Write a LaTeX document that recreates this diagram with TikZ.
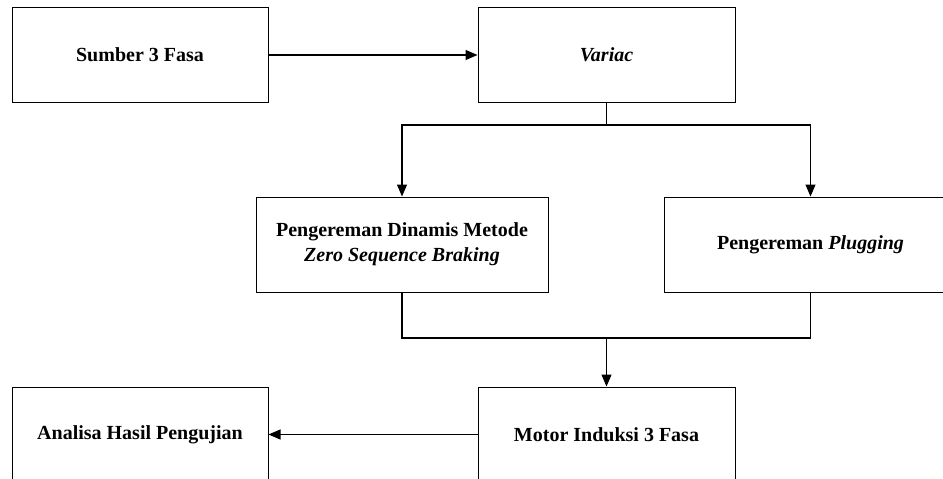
\documentclass[tikz,border=0pt]{standalone}
\usepackage{fontspec}
\setmainfont{Liberation Serif}
\usepackage{tikz}
\usetikzlibrary{arrows.meta}
\tikzset{>={Triangle[length=12pt,width=10pt]}}
\tikzset{blok/.style={draw, rectangle, line width=1pt, minimum height=95pt,
    align=center, font=\fontsize{20}{25}\selectfont\bfseries}}

\begin{document}
\begin{tikzpicture}[x=1pt, y=-1pt, line width=1.1pt]
    \useasboundingbox (0,0) rectangle (943,479);
    \node[blok, minimum width=256pt](sumber)at(140, 55){Sumber 3 Fasa};
    \node[blok, minimum width=257pt](variac)at(606.5, 55){\textit{Variac}};
    \node[blok, minimum width=292pt](dinamis)at(402, 244.5){Pengereman Dinamis Metode\\\textit{Zero Sequence Braking}};
    \node[blok, minimum width=292pt](plugging)at(810.5, 244.5){Pengereman \textit{Plugging}};
    \node[blok, minimum width=257pt](motor)at(606.5, 434.5){Motor Induksi 3 Fasa};
    \node[blok, minimum width=256pt](analisa)at(140, 434.5){Analisa Hasil Pengujian};
    \coordinate(cabang)at(606.5, 125);
    \coordinate(gabung)at(606.5, 338);
    \draw[->](sumber.east)--(variac.west);
    \draw(variac.south)--(cabang);
    \draw[->](cabang)-|(dinamis.north);
    \draw[->](cabang)-|(plugging.north);
    \draw(dinamis.south)|-(gabung);
    \draw(plugging.south)|-(gabung);
    \draw[->](gabung)--(motor.north);
    \draw[->](motor.west)--(analisa.east);
\end{tikzpicture}
\end{document}
